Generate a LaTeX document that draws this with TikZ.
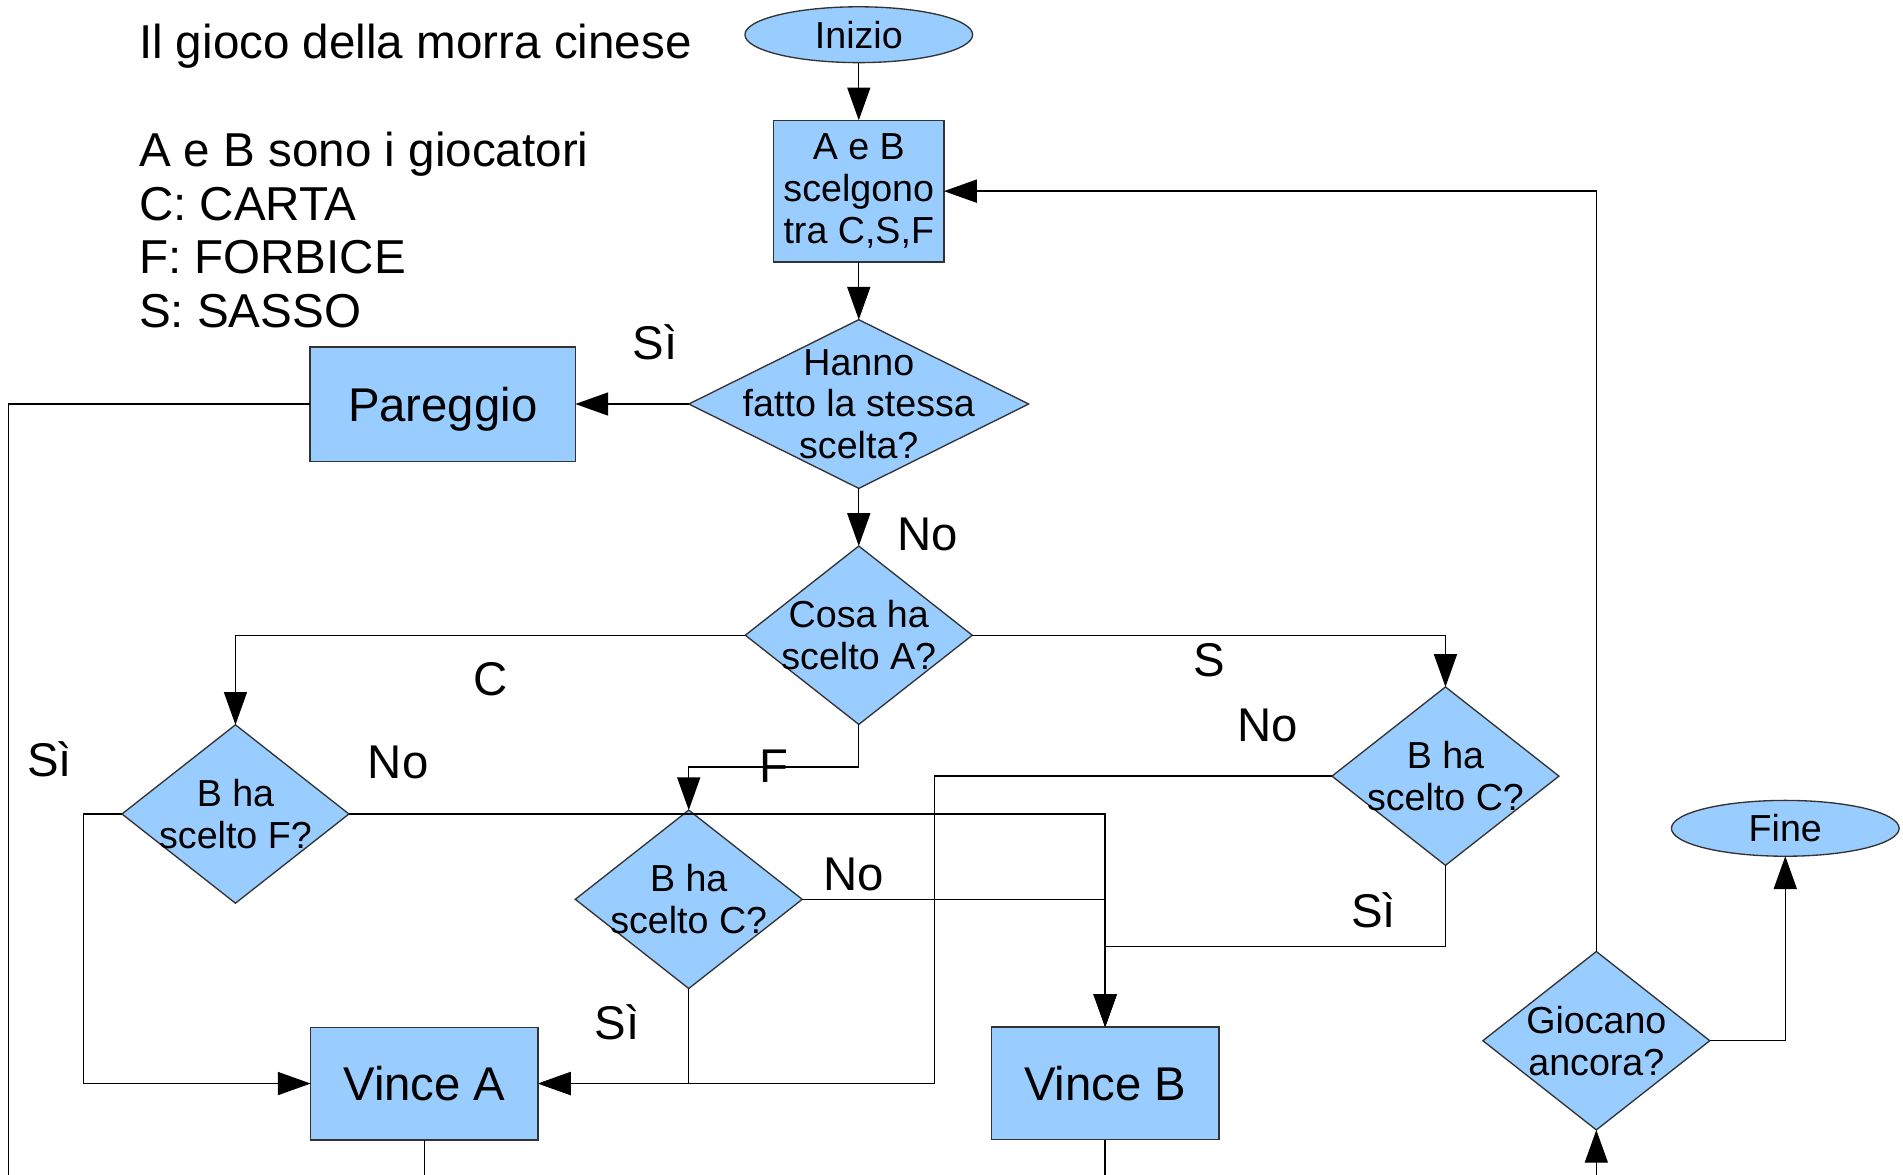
\documentclass[tikz,border=0pt]{standalone}
\usepackage{fontspec}
\setmainfont{Liberation Sans}
\usetikzlibrary{arrows.meta,positioning,shapes.geometric}
\definecolor{flowblue}{HTML}{99CCFF}
\definecolor{flowline}{HTML}{333333}

\begin{document}
\begin{tikzpicture}[x=0.5pt,y=-0.5pt,->,>={Triangle[length=13.5pt,width=9.5pt]},
  line width=0.55pt,node distance=23.75pt,
  term/.style={ellipse,draw=flowline,fill=flowblue,inner sep=0pt,outer sep=0pt,
    minimum width=93.8pt,minimum height=23pt,font=\fontsize{15.5}{17.2}\selectfont},
  process/.style={rectangle,draw=flowline,fill=flowblue,outer sep=0pt,align=center},
  decision/.style={diamond,draw=flowline,fill=flowblue,inner xsep=-30pt,inner ysep=-15pt,
    outer sep=0pt,minimum width=93.5pt,minimum height=73.5pt,align=center,
    font=\fontsize{15.5}{17.2}\selectfont},
  big/.style={font=\fontsize{19.5}{22}\selectfont,text depth=0pt},
  lbl/.style={anchor=base,inner sep=0pt,font=\fontsize{19.5}{22}\selectfont}]

  \useasboundingbox (0,0) rectangle (1568,968);

  \node[anchor=north west,inner sep=0pt,align=left,font=\fontsize{19.6}{22}\selectfont]
    (legend) at (114,19.5) {Il gioco della morra cinese\\[22.5pt]A e B sono i giocatori\\C: CARTA\\F: FORBICE\\S: SASSO};

  \node[term]     (start)              at (707.6,28.6) {Inizio};
  \node[process,minimum width=70.2pt,minimum height=58.4pt,font=\fontsize{15.5}{17.2}\selectfont]
                  (choose) [below=of start] {A e B\\scelgono\\tra C,S,F};
  \node[decision,minimum width=140pt,minimum height=69.5pt]
                  (same)   [below=of choose] {Hanno\\fatto la stessa\\scelta?};
  \node[process,big,minimum width=109.3pt,minimum height=47.1pt]
                  (tie)    [left=46.75pt of same] {Pareggio};
  \node[decision] (whatA)  [below=of same] {Cosa ha\\scelto A?};
  \node[decision] (bF)                 at (194,670.7) {B ha\\scelto F?};
  \node[decision] (bCmid)              at (567.5,741) {B ha\\scelto C?};
  \node[decision] (bCright)            at (1191,639.5) {B ha\\scelto C?};
  \node[process,big,minimum width=93.7pt,minimum height=46.4pt] (winA) at (349.7,892.8) {Vince A};
  \node[process,big,minimum width=93.7pt,minimum height=46.4pt] (winB) at (910.6,892.6) {Vince B};
  \node[decision] (again)              at (1315.3,857.5) {Giocano\\ancora?};
  \node[term]     (stop)               at (1471,682.5) {Fine};

  \coordinate (outT) at (7,968);
  \coordinate (outA) at (349.7,968);
  \coordinate (outB) at (910.6,968);
  \coordinate (inAgain) at (1315.3,968);

  \draw (start) -- (choose);
  \draw (choose) -- (same);
  \draw (same) -- (tie) node[lbl] at (539.6,296.6) {Sì};
  \draw (same) -- (whatA) node[lbl] at (764.6,453.2) {No};
  \draw (whatA.west) -| (bF.north) node[lbl] at (404.5,572.8) {C};
  \draw (whatA.east) -| (bCright.north) node[lbl] at (996,557) {S};
  \draw (whatA.south) -- ++(0,35) -| (bCmid.north) node[lbl] at (637.5,644.6) {F};
  \draw (bF.west) -- ++(-31.5,0) |- (winA.west) node[lbl] at (41,639.8) {Sì};
  \draw (bF.east) -| (winB.north) node[lbl] at (328,641.8) {No};
  \draw (bCmid.east) -| (winB.north) node[lbl] at (703.5,733.4) {No};
  \draw (bCmid.south) |- (winA.east) node[lbl] at (508.5,856.5) {Sì};
  \draw (bCright.west) -- ++(-327.5,0) |- (winA.east) node[lbl] at (1044.6,610.7) {No};
  \draw (bCright.south) -- ++(0,67) -| (winB.north) node[lbl] at (1131.6,764.3) {Sì};
  \draw (again.north) |- (choose.east);
  \draw (again.east) -| (stop.south);
  \draw (inAgain) -- (again.south);
  \draw[-] (tie.west) -| (outT);
  \draw[-] (winA.south) -- (outA);
  \draw[-] (winB.south) -- (outB);
\end{tikzpicture}
\end{document}
